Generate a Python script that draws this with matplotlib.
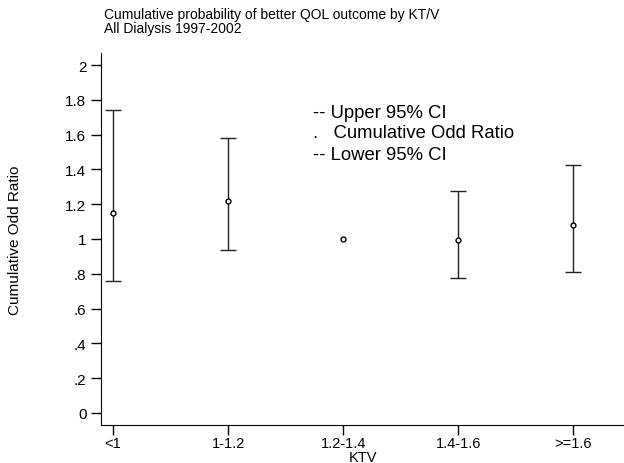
import matplotlib.pyplot as plt
import numpy as np

plt.rcParams['font.family'] = ['Liberation Sans', 'DejaVu Sans']

# KT/V groups and cumulative odds ratios with 95% CI (1.2-1.4 is the reference)
groups = ['<1', '1-1.2', '1.2-1.4', '1.4-1.6', '>=1.6']
odds = [1.15, 1.217, 1.0, 0.993, 1.082]
upper = [1.741, 1.579, 1.0, 1.276, 1.427]
lower = [0.759, 0.937, 1.0, 0.774, 0.812]
yticks = [0, 0.2, 0.4, 0.6, 0.8, 1, 1.2, 1.4, 1.6, 1.8, 2]
ylabels = ['0', '.2', '.4', '.6', '.8', '1', '1.2', '1.4', '1.6', '1.8', '2']

fig = plt.figure(figsize=(6.24, 4.64), dpi=100)
ax = fig.add_axes([101 / 624, 38 / 464, 1 - 101 / 624, 372 / 464])

x = np.arange(1, len(groups) + 1)
odds = np.array(odds)
upper = np.array(upper)
lower = np.array(lower)
has_ci = upper > lower
yerr = [odds[has_ci] - lower[has_ci], upper[has_ci] - odds[has_ci]]
ax.errorbar(x[has_ci], odds[has_ci], yerr=yerr, fmt='none', ecolor='#222222',
            elinewidth=1.0, capsize=5.5, capthick=1.0)
ax.plot(x, odds, 'o', ms=3.5, mfc='white', mec='black', mew=1.0, zorder=3)

ax.set_xlim(0.896, 5.44)
ax.set_ylim(-0.07, 2.07)
ax.set_xticks(x)
ax.set_xticklabels(groups)
ax.set_yticks(yticks)
ax.set_yticklabels(ylabels)
ax.tick_params(direction='out', length=7, width=1, labelsize=11)
ax.tick_params(axis='x', pad=1, labelsize=10.5)
ax.spines['top'].set_visible(False)
ax.spines['right'].set_visible(False)
ax.set_xlabel('KTV', fontsize=10.5, labelpad=0)
ax.set_ylabel('Cumulative Odd Ratio', fontsize=11, labelpad=31)

fig.text(104 / 624, 1 - 15 / 464, 'Cumulative probability of better QOL outcome by KT/V',
         fontsize=10, va='center')
fig.text(104 / 624, 1 - 29 / 464, 'All Dialysis 1997-2002', fontsize=10, va='center')

for txt, yy in [('-- Upper 95% CI', 113), ('.   Cumulative Odd Ratio', 134),
                ('-- Lower 95% CI', 155)]:
    fig.text(313 / 624, 1 - yy / 464, txt, fontsize=13.3, va='center')

fig.savefig('out.png', dpi=100)
